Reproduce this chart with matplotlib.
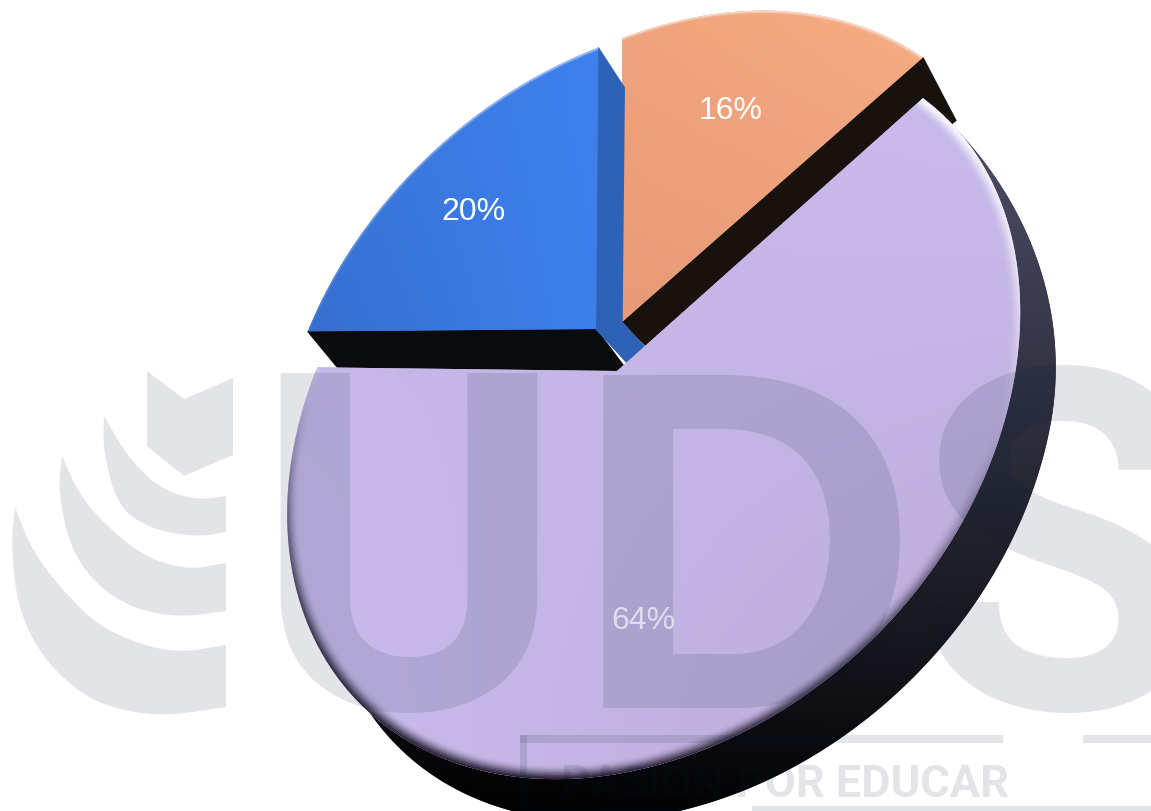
import matplotlib
matplotlib.use('Agg')
import matplotlib.pyplot as plt
import numpy as np
from matplotlib.collections import LineCollection
from matplotlib.patches import Polygon, Rectangle

# dados do grafico (na ordem em que as fatias aparecem)
etiquetas = ['64%', '20%', '16%']
valores = [64, 20, 16]

# perspectiva do disco
VEC_A = np.array([305.0, -272.0])
VEC_B = np.array([196.0, 230.5])
PERSP_P = -0.01
PERSP_Q = -0.19

LUZ = np.array([0.3, -0.95])
W, H = 1151, 812


def aro(t, escala=1.0):
    c, s = np.cos(t), np.sin(t)
    den = 1 + PERSP_P * c + PERSP_Q * s
    # o lado direito do disco e um pouco mais achatado
    achata = 1 - 0.025 * np.exp(-((t - np.pi / 4) / 0.7) ** 2)
    return escala * (np.outer(c, VEC_A) + np.outer(s, VEC_B)) * (achata / den)[:, None]


def preencher(ax, pts, cores, z):
    # gradiente bilinear a partir das 4 cores dos cantos, recortado no poligono
    x0, y0 = pts.min(axis=0)
    x1, y1 = pts.max(axis=0)
    cs = np.array([matplotlib.colors.to_rgb(c) for c in cores])
    u = np.linspace(0, 1, 64)[None, :, None]
    v = np.linspace(0, 1, 64)[:, None, None]
    img = (1 - v) * ((1 - u) * cs[0] + u * cs[1]) + v * ((1 - u) * cs[2] + u * cs[3])
    # base solida para a borda recortada da imagem nao deixar fresta
    ax.add_patch(Polygon(pts, closed=True, fc=cs.mean(axis=0), ec='none', zorder=z))
    im = ax.imshow(img, extent=(x0, x1, y1, y0), aspect='auto', zorder=z, interpolation='bilinear')
    patch = Polygon(pts, closed=True, fc='none', ec='none', transform=ax.transData, zorder=z)
    ax.add_patch(patch)
    im.set_clip_path(patch)
    return patch


def bisel(ax, t, centro, escala, patch, z, largura, forca_claro, forca_escuro):
    # aneis finos ao longo do aro: claro do lado da luz, escuro do lado oposto
    n = 10
    for i in range(n):
        s = escala * (1 - i * largura / n)
        p = centro + aro(t, s)
        seg = np.stack([p[:-1], p[1:]], axis=1)
        d = p[1:] - p[:-1]
        normal = np.column_stack([d[:, 1], -d[:, 0]])
        normal = normal / np.linalg.norm(normal, axis=1, keepdims=True)
        if np.dot(normal[len(normal) // 2], p[len(p) // 2] - centro) < 0:
            normal = -normal
        luz = normal @ LUZ
        dec = (1 - i / n) ** 2
        rgba = np.zeros((len(seg), 4))
        rgba[luz > 0, :3] = 1
        rgba[luz <= 0, :3] = [0.12, 0.09, 0.16]
        rgba[:, 3] = np.where(luz > 0, forca_claro * luz, forca_escuro * -luz) * dec
        rgba[:, 3] = np.clip(rgba[:, 3], 0, 1)
        lc = LineCollection(seg, colors=rgba, linewidths=largura * 400 / n + 0.6, zorder=z, capstyle='butt')
        ax.add_collection(lc)
        lc.set_clip_path(patch)


def suave(pts, vezes=3):
    pts = np.array(pts, float)
    for _ in range(vezes):
        q = 0.75 * pts[:-1] + 0.25 * pts[1:]
        r = 0.25 * pts[:-1] + 0.75 * pts[1:]
        novo = np.empty((2 * len(q), 2))
        novo[0::2] = q
        novo[1::2] = r
        pts = np.vstack([pts[0], novo, pts[-1]])
    return pts


fig = plt.figure(figsize=(W / 100, H / 100), dpi=100)
ax = fig.add_axes([0, 0, 1, 1])
ax.axis('off')

fracoes = np.array(valores) / sum(valores)
limites = np.concatenate([[0], np.cumsum(fracoes)]) * 2 * np.pi

# vertice, origem do aro, extrusao, cores do gradiente
vertices = [np.array([617.0, 372.0]), np.array([596.0, 330.0]), np.array([622.0, 323.0])]
origens = [np.array([617.0, 372.0]), np.array([600.0, 336.0]), np.array([624.0, 325.0])]
escalas = [1.0, 0.975, 0.97]
extrusoes = [np.array([37.0, 42.0]), np.array([33.0, 40.0]), np.array([33.0, 63.0])]
topos = [
    ['#c3b5e4', '#c9bbec', '#c9bcec', '#b9aad5'],
    ['#3a78dc', '#3f80ee', '#376fd0', '#3d80ea'],
    ['#f0a47c', '#f6ae84', '#e89a78', '#ea9c78'],
]
rotulos_xy = [(643, 621), (473, 212), (731, 111)]
rotulos_cor = ['#e2dcef', 'white', 'white']

# ordem de desenho: laranja, azul e por fim o roxo na frente
for k in [2, 1, 0]:
    t = np.linspace(limites[k], limites[k + 1], 200)
    c = vertices[k]
    o = origens[k]
    e = extrusoes[k]
    borda = o + aro(t, escalas[k])
    z = 2 + (2 - k) * 3
    if k == 0:
        # lateral do disco roxo: nasce fina no alto e escurece para baixo
        fator = np.sin(np.clip(t / 0.9, 0, 1) * np.pi / 2)[:, None]
        m = np.vstack([borda + e * fator, [c + e], borda[:1]])
        preencher(ax, m, ['#50506a', '#50506a', '#000000', '#040406'], z)
    elif k == 1:
        # lateral esquerda preta e lateral direita azul
        ax.add_patch(Polygon(np.array([borda[0], borda[0] + e, c + [33, 44], c]), fc='#0a0b0e', ec='#0a0b0e', zorder=z))
        face = [borda[-1], borda[-1] + [26, 40], c + [26, -7], c + [52, 22], c + [34, 37], c]
        ax.add_patch(Polygon(np.array(face), fc='#2e62b6', ec='#2e62b6', zorder=z))
    else:
        ax.add_patch(Polygon(np.array([borda[-1], borda[-1] + e, c + [32, 32], c]), fc='#17120e', ec='#17120e', zorder=z))
    poly = np.vstack([c[None], borda])
    patch = preencher(ax, poly, topos[k], z + 1)
    if k == 0:
        bisel(ax, t, o, escalas[k], patch, z + 2, 0.035, 1.0, 0.85)
    else:
        bisel(ax, t, o, escalas[k], patch, z + 2, 0.012, 0.35, 0.2)

# marca d'agua por cima de tudo
MARCA = (0, 0.1, 0.2, 0.115)
ZM = 20
seta = [(147, 372), (184, 400), (233, 379), (233, 456), (184, 477), (147, 447)]
ax.add_patch(Polygon(seta, fc=MARCA, ec='none', zorder=ZM))
faixas = [
    ([(104, 417), (103, 450), (117, 507), (150, 530), (197, 538), (226, 533)],
     [(226, 497), (197, 501), (160, 490), (127, 457), (104, 417)]),
    ([(62, 457), (58, 490), (70, 550), (100, 590), (140, 612), (183, 618), (226, 612)],
     [(226, 564), (187, 571), (143, 557), (107, 527), (80, 497), (62, 457)]),
    ([(15, 508), (11, 547), (18, 610), (43, 660), (87, 700), (133, 714), (173, 716), (226, 708)],
     [(226, 646), (177, 654), (133, 643), (93, 623), (53, 580), (30, 547), (15, 508)]),
]
for fora, dentro in faixas:
    ax.add_patch(Polygon(np.vstack([suave(fora), suave(dentro)]), fc=MARCA, ec='none', zorder=ZM))

for letra, xl, fonte, tam in zip('UDS', [408, 745, 1059], ['Roboto', 'Liberation Sans', 'Roboto'], [339, 348, 342]):
    ax.text(xl, 708, letra, fontsize=tam, family=fonte, weight='bold',
            color=MARCA, ha='center', va='baseline', zorder=ZM)

for x0, y0, w, h in [(520, 736, 483, 8), (1083, 736, 68, 8), (520, 736, 7, 76), (527, 807, 159, 5), (752, 807, 399, 5)]:
    ax.add_patch(Rectangle((x0, y0), w, h, fc=MARCA, ec='none', zorder=ZM))
ax.text(785, 797, 'PASIÓN POR EDUCAR', fontsize=32.5, family='Roboto', weight='bold', color=MARCA,
        ha='center', va='baseline', zorder=ZM)

for txt, (x, y), cor in zip(etiquetas, rotulos_xy, rotulos_cor):
    ax.text(x, y, txt, fontsize=23, family='Liberation Sans', color=cor, ha='center', va='center', zorder=30)

ax.set_xlim(0, W)
ax.set_ylim(H, 0)
fig.savefig('out.png', dpi=100)
